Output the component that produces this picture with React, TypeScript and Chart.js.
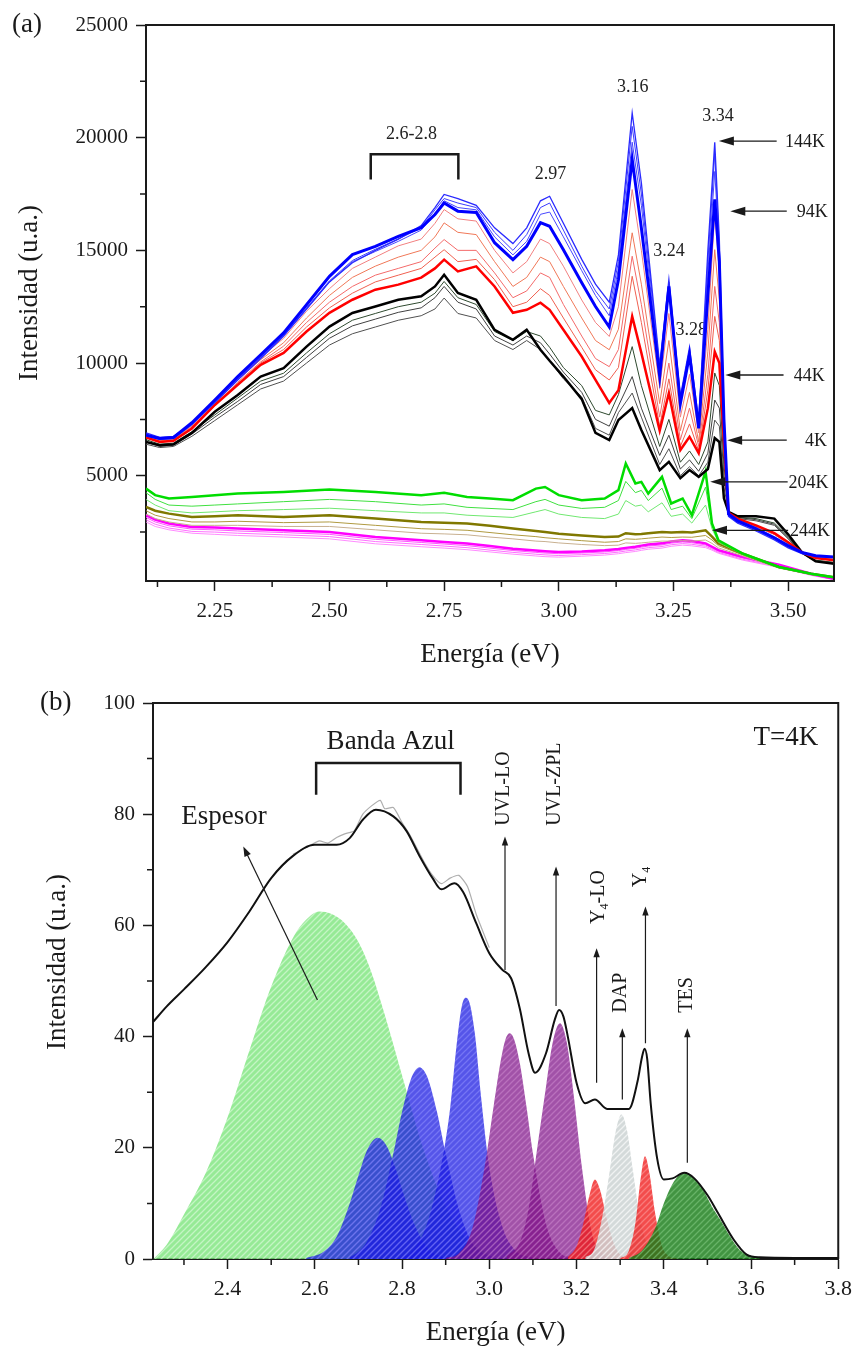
import React, { useEffect, useRef } from 'react';
import { Chart, registerables } from 'chart.js';

Chart.register(...registerables);

const SERIF = '"Liberation Serif", "Times New Roman", Times, serif';
Chart.defaults.font.family = SERIF;
Chart.defaults.color = '#1a1a1a';

// ================= Panel (a) data =================
const A_X = [2.10, 2.13, 2.16, 2.20, 2.25, 2.30, 2.35, 2.40, 2.45, 2.50,
  2.55, 2.60, 2.65, 2.70, 2.73, 2.75, 2.78, 2.82, 2.86, 2.90,
  2.93, 2.96, 2.98, 3.01, 3.05, 3.08, 3.11, 3.13, 3.16, 3.18,
  3.22, 3.24, 3.265, 3.285, 3.305, 3.325, 3.34, 3.35, 3.36, 3.37,
  3.39, 3.43, 3.47, 3.50, 3.53, 3.56, 3.60];

const A_BLUE_144K = [6900, 6700, 6750, 7300, 8250, 9250, 10200, 11200, 12400, 13600,
  14450, 15000, 15500, 16100, 16900, 17480, 17300, 17000, 16000, 15300,
  16000, 17200, 17400, 16200, 14600, 13500, 12700, 14800, 21100, 18000,
  9900, 13700, 8500, 10700, 7400, 15000, 19800, 15500, 7600, 3200,
  2900, 2550, 2150, 1800, 1550, 1420, 1380];
const A_BLUE_B = [6850, 6650, 6700, 7300, 8300, 9300, 10250, 11250, 12450, 13650,
  14550, 15050, 15500, 16000, 16800, 17300, 17100, 16900, 15800, 15000,
  15700, 16900, 17100, 15900, 14300, 13200, 12400, 14500, 20500, 17500,
  9800, 13600, 8400, 10600, 7300, 14500, 19300, 15200, 7500, 3250,
  2950, 2600, 2200, 1850, 1580, 1430, 1390];
const A_BLUE_C = [6800, 6600, 6650, 7250, 8250, 9250, 10200, 11200, 12400, 13600,
  14500, 14950, 15400, 15900, 16600, 17200, 16900, 16800, 15600, 14800,
  15400, 16600, 16700, 15600, 14100, 13000, 12100, 14200, 19800, 17000,
  9600, 13500, 8300, 10500, 7200, 14000, 18500, 15000, 7500, 3250,
  2950, 2600, 2200, 1850, 1580, 1430, 1390];
const A_BLUE_94K = [6800, 6650, 6700, 7350, 8360, 9400, 10360, 11340, 12590, 13850,
  14810, 15180, 15620, 16010, 16590, 17100, 16740, 16680, 15340, 14590,
  15180, 16230, 16070, 15030, 13560, 12510, 11600, 13700, 19040, 16000,
  9400, 13400, 8200, 10360, 7100, 13000, 17260, 14500, 7500, 3300,
  3000, 2650, 2250, 1900, 1600, 1450, 1400];

const A_RED_1 = [6750, 6600, 6650, 7300, 8250, 9300, 10250, 11100, 12300, 13300,
  14200, 14700, 15200, 15500, 16200, 16810, 16400, 16300, 15000, 14000,
  14500, 15500, 15300, 14300, 12800, 11800, 11180, 12500, 17700, 15000,
  8900, 12200, 7600, 9500, 6900, 11500, 16670, 14000, 7300, 3300,
  3050, 2750, 2400, 2000, 1600, 1400, 1300];
const A_RED_2 = [6700, 6550, 6600, 7250, 8200, 9250, 10150, 10900, 12000, 13000,
  13800, 14300, 14700, 15000, 15600, 16220, 15800, 15700, 14500, 13400,
  13800, 14700, 14500, 13400, 12000, 11000, 10590, 11500, 15780, 13500,
  8200, 11000, 7000, 8700, 6500, 10500, 15030, 12800, 7100, 3300,
  3050, 2750, 2400, 2000, 1600, 1380, 1280];
const A_RED_3 = [6700, 6550, 6600, 7200, 8150, 9150, 10050, 10750, 11800, 12700,
  13400, 13900, 14200, 14500, 15100, 15480, 15000, 15000, 14000, 12900,
  13200, 14000, 13800, 12600, 11200, 10200, 9840, 10600, 14740, 12600,
  7600, 10000, 6600, 8000, 6300, 9500, 13400, 11800, 6900, 3300,
  3050, 2750, 2400, 2000, 1600, 1370, 1270];
const A_RED_4 = [6700, 6500, 6550, 7150, 8100, 9100, 10000, 10600, 11600, 12450,
  13100, 13600, 13900, 14200, 14700, 15030, 14500, 14600, 13700, 12500,
  12700, 13300, 13000, 12000, 10700, 9700, 9250, 9800, 13850, 11800,
  7200, 9300, 6300, 7300, 6100, 8800, 12070, 11000, 6700, 3300,
  3050, 2750, 2400, 2000, 1600, 1360, 1260];
const A_RED_44K = [6700, 6500, 6550, 7100, 8140, 9030, 9920, 10450, 11400, 12230,
  12810, 13255, 13480, 13790, 14200, 14590, 14070, 14290, 13400, 12230,
  12365, 12680, 12365, 11475, 10290, 9250, 8230, 8800, 12070, 10450,
  7000, 8670, 6140, 6730, 6000, 8000, 10500, 10000, 6500, 3350,
  3100, 2800, 2450, 2050, 1600, 1350, 1250];

const A_GRAY_1 = [6600, 6400, 6450, 6950, 7700, 8450, 9200, 9550, 10450, 11300,
  11900, 12200, 12500, 12700, 13100, 13620, 12900, 12600, 11400, 11000,
  11400, 11200, 10700, 9800, 9000, 7900, 7700, 8600, 10730, 9000,
  6300, 7500, 5600, 6100, 5500, 6500, 9560, 9000, 5500, 3400,
  3150, 3100, 2900, 2300, 1600, 1250, 1150];
const A_GRAY_2 = [6500, 6300, 6350, 6850, 7600, 8300, 9050, 9400, 10250, 11100,
  11650, 11950, 12250, 12450, 12900, 13400, 12700, 12400, 11200, 10800,
  11200, 10900, 10400, 9600, 8700, 7500, 7200, 8100, 9400, 8000,
  5900, 6800, 5300, 5700, 5200, 6000, 8360, 8000, 5000, 3400,
  3150, 3050, 2850, 2250, 1600, 1250, 1150];
const A_GRAY_3 = [6400, 6250, 6300, 6750, 7450, 8150, 8850, 9200, 10000, 10800,
  11300, 11600, 11900, 12100, 12400, 12885, 12200, 12000, 11000, 10600,
  11000, 10600, 10100, 9300, 8500, 7100, 6800, 7800, 8670, 7600,
  5500, 6200, 5000, 5400, 5000, 5600, 7470, 7200, 4500, 3400,
  3100, 3000, 2800, 2200, 1550, 1200, 1120];
const A_BLACK_4K = [6500, 6350, 6400, 6900, 7840, 8585, 9400, 9770, 10730, 11620,
  12220, 12510, 12810, 12960, 13400, 13920, 13110, 12810, 11475, 11030,
  11475, 10590, 10100, 9400, 8400, 6900, 6580, 7470, 8000, 7030,
  5250, 5620, 4890, 5250, 4950, 5300, 6670, 6500, 4000, 3400,
  3200, 3200, 3100, 2400, 1600, 1200, 1100];

const A_XL = [2.10, 2.12, 2.15, 2.20, 2.25, 2.30, 2.40, 2.50, 2.60, 2.70,
  2.75, 2.80, 2.85, 2.90, 2.95, 2.97, 3.00, 3.05, 3.10, 3.13,
  3.146, 3.167, 3.18, 3.195, 3.225, 3.245, 3.27, 3.29, 3.32, 3.334,
  3.348, 3.40, 3.48, 3.55, 3.60];
const A_GREEN_204K = [4430, 4140, 3990, 4060, 4140, 4210, 4280, 4390, 4280, 4140,
  4240, 4060, 3990, 3915, 4430, 4500, 4140, 3915, 3990, 4360,
  5545, 4660, 4730, 4210, 4950, 3770, 3990, 3250, 5180, 2880,
  2135, 1556, 950, 650, 500];
const A_GREEN_2 = [4250, 3950, 3700, 3650, 3700, 3750, 3850, 3950, 3850, 3700,
  3750, 3600, 3550, 3500, 3850, 3950, 3700, 3550, 3600, 3900,
  4750, 4250, 4350, 3900, 4450, 3500, 3650, 3100, 4500, 2800,
  2100, 1540, 940, 640, 490];
const A_GREEN_3 = [3950, 3700, 3450, 3350, 3400, 3450, 3500, 3560, 3450, 3350,
  3350, 3250, 3200, 3150, 3400, 3500, 3300, 3150, 3100, 3300,
  3900, 3650, 3700, 3400, 3800, 3200, 3300, 2900, 3700, 2650,
  2050, 1520, 930, 630, 480];
const A_OLIVE_244K = [3620, 3450, 3320, 3170, 3200, 3250, 3170, 3250, 3100, 2950,
  2920, 2880, 2780, 2660, 2550, 2500, 2430, 2350, 2280, 2300,
  2450, 2400, 2420, 2450, 2500, 2480, 2500, 2480, 2580, 2300,
  2000, 1550, 950, 650, 500];
const A_OLIVE_2 = [3450, 3250, 3100, 2950, 2950, 2980, 2920, 2950, 2800, 2650,
  2620, 2580, 2480, 2380, 2300, 2250, 2200, 2120, 2050, 2080,
  2200, 2180, 2200, 2230, 2280, 2260, 2280, 2270, 2350, 2150,
  1900, 1500, 920, 630, 480];
const A_OLIVE_3 = [3300, 3100, 2950, 2800, 2800, 2800, 2750, 2750, 2600, 2450,
  2420, 2380, 2280, 2200, 2100, 2080, 2020, 1950, 1900, 1920,
  2020, 2000, 2020, 2050, 2100, 2100, 2120, 2100, 2150, 2000,
  1800, 1450, 900, 620, 470];
const A_MAG_1 = [3250, 3050, 2880, 2730, 2700, 2655, 2580, 2505, 2280, 2135,
  2060, 1990, 1880, 1765, 1680, 1650, 1615, 1640, 1690, 1750,
  1800, 1850, 1900, 1950, 2000, 2080, 2135, 2100, 2000, 1850,
  1700, 1400, 1050, 650, 430];
const A_MAG_2 = [3150, 2950, 2780, 2630, 2600, 2550, 2480, 2400, 2180, 2040,
  1970, 1900, 1790, 1680, 1600, 1570, 1540, 1570, 1620, 1680,
  1730, 1780, 1830, 1880, 1930, 2010, 2060, 2030, 1930, 1800,
  1650, 1350, 1000, 620, 410];
const A_MAG_3 = [3050, 2850, 2680, 2530, 2500, 2450, 2380, 2300, 2080, 1950,
  1880, 1810, 1700, 1600, 1520, 1490, 1460, 1500, 1550, 1610,
  1660, 1710, 1760, 1810, 1860, 1940, 1990, 1960, 1870, 1750,
  1600, 1300, 960, 600, 400];
const A_MAG_4 = [2950, 2750, 2600, 2450, 2400, 2350, 2280, 2200, 1980, 1850,
  1790, 1720, 1620, 1520, 1440, 1410, 1390, 1430, 1480, 1540,
  1590, 1640, 1690, 1740, 1790, 1870, 1920, 1890, 1810, 1700,
  1560, 1260, 930, 580, 390];

const A_X_TICKS = [2.25, 2.5, 2.75, 3.0, 3.25, 3.5];
const A_X_MINOR = [2.125, 2.375, 2.625, 2.875, 3.125, 3.375];
const A_Y_TICKS = [5000, 10000, 15000, 20000, 25000];
const A_Y_MINOR = [2500, 7500, 12500, 17500, 22500];

const A_PEAK_LABELS = ['2.97', '3.16', '3.24', '3.28', '3.34'];
const A_PEAK_X = [2.982, 3.161, 3.240, 3.289, 3.347];
const A_PEAK_Y = [18370, 22240, 14960, 11475, 20960];
const A_BAND_LABEL = '2.6-2.8';
const A_BAND_X = [2.590, 2.781];
const A_BAND_Y = [19260, 18150];
const A_BAND_LABEL_POS = [2.679, 20150];

const A_TEMP_LABELS = ['144K', '94K', '44K', '4K', '204K', '244K'];
const A_TEMP_HEAD_X = [3.349, 3.374, 3.363, 3.367, 3.330, 3.334];
const A_TEMP_TAIL_X = [3.475, 3.497, 3.490, 3.497, 3.499, 3.500];
const A_TEMP_TEXT_X = [3.493, 3.519, 3.512, 3.537, 3.501, 3.504];
const A_TEMP_Y = [19850, 16740, 9470, 6580, 4730, 2580];

// ================= Panel (b) data =================
const B_ESP_X = [2.23, 2.26, 2.30, 2.35, 2.40, 2.45, 2.50, 2.55, 2.58, 2.61, 2.64, 2.67, 2.70, 2.73, 2.76, 2.80, 2.85, 2.90, 2.95, 3.00];
const B_ESP_Y = [0, 2.5, 8, 15.5, 25.5, 37.5, 49, 57.8, 61, 62.5, 62, 60.3, 57, 51.5, 44, 33, 19.5, 9.5, 3.5, 0.8];
const B_BLUE1_X = [2.58, 2.62, 2.65, 2.68, 2.70, 2.72, 2.744, 2.765, 2.785, 2.80, 2.83, 2.86, 2.89, 2.92];
const B_BLUE1_Y = [0.2, 1.3, 4, 10, 15, 19.6, 21.8, 20.3, 16.3, 12.5, 5.9, 1.8, 0.5, 0.1];
const B_BLUE2_X = [2.68, 2.70, 2.72, 2.75, 2.78, 2.80, 2.82, 2.83, 2.84, 2.85, 2.86, 2.88, 2.90, 2.93, 2.96, 2.98, 3.01];
const B_BLUE2_Y = [0.3, 1.3, 3.2, 9, 19, 26.5, 32.3, 33.9, 34.5, 33.9, 32.3, 26.5, 19, 9, 3, 1.3, 0.3];
const B_BLUE3_X = [2.78, 2.80, 2.83, 2.86, 2.89, 2.91, 2.925, 2.937, 2.946, 2.955, 2.967, 2.98, 3.00, 3.03, 3.06, 3.10];
const B_BLUE3_Y = [0.1, 0.3, 2, 7, 17, 27, 38.5, 45.5, 47, 46, 40.5, 30, 16.5, 5.8, 1.5, 0.2];
const B_UVLLO_X = [2.90, 2.93, 2.96, 2.99, 3.01, 3.027, 3.037, 3.047, 3.057, 3.07, 3.085, 3.10, 3.13, 3.16, 3.19];
const B_UVLLO_Y = [0.2, 1.0, 5.2, 16.9, 27.5, 36, 39.5, 40.6, 39.5, 35.2, 27.5, 19, 6.3, 1.3, 0.2];
const B_UVLZPL_X = [3.04, 3.07, 3.09, 3.11, 3.13, 3.145, 3.162, 3.178, 3.195, 3.212, 3.235, 3.26, 3.29];
const B_UVLZPL_Y = [0.5, 3, 9, 20, 31, 38.8, 42.4, 38.8, 28.5, 16.7, 4.7, 1, 0.1];
const B_Y4LO_X = [3.18, 3.20, 3.215, 3.23, 3.242, 3.254, 3.27, 3.285, 3.30, 3.32];
const B_Y4LO_Y = [0.3, 2.3, 6.2, 11.6, 14.3, 12.4, 7, 2.9, 0.8, 0.1];
const B_DAP_X = [3.22, 3.24, 3.26, 3.275, 3.29, 3.303, 3.316, 3.33, 3.345, 3.36, 3.38, 3.40];
const B_DAP_Y = [0.3, 1.6, 8, 15.3, 23, 26, 23, 15.5, 7.6, 3, 0.5, 0.1];
const B_Y4_X = [3.30, 3.32, 3.335, 3.347, 3.357, 3.367, 3.38, 3.395, 3.41, 3.43];
const B_Y4_Y = [0.1, 1.5, 6.5, 14.5, 18.5, 15.5, 8.3, 2.5, 0.6, 0.1];
const B_TES_X = [3.32, 3.35, 3.38, 3.40, 3.42, 3.447, 3.47, 3.49, 3.51, 3.53, 3.55, 3.57, 3.59, 3.62];
const B_TES_Y = [0.2, 1.5, 5.5, 10, 13.5, 15.5, 14.5, 12.5, 9.5, 7, 4.3, 2, 0.8, 0.2];

const B_EXP_X = [2.55, 2.58, 2.61, 2.63, 2.65, 2.67, 2.69, 2.71, 2.73, 2.75, 2.76, 2.78, 2.80, 2.82, 2.85, 2.87, 2.89, 2.91, 2.93, 2.95, 2.97, 3.00];
const B_EXP_Y = [72.8, 74, 75.2, 74.8, 75.8, 76.5, 77, 80, 81.5, 82.5, 81, 81.2, 78.5, 76, 71.5, 69, 67.5, 68.5, 69, 67, 62, 56];

const B_FIT_X = [2.23, 2.26, 2.30, 2.35, 2.40, 2.45, 2.50, 2.55, 2.60, 2.65,
  2.68, 2.71, 2.74, 2.78, 2.81, 2.84, 2.87, 2.89, 2.92, 2.94,
  2.97, 3.00, 3.03, 3.05, 3.07, 3.09, 3.105, 3.13, 3.15, 3.16,
  3.17, 3.18, 3.20, 3.22, 3.242, 3.27, 3.30, 3.32, 3.34, 3.35,
  3.356, 3.362, 3.37, 3.385, 3.40, 3.42, 3.447, 3.47, 3.50, 3.524,
  3.56, 3.59, 3.62, 3.70, 3.80];
const B_FIT_Y = [42.7, 45.4, 48.5, 52.5, 57, 62.5, 68.5, 72.5, 74.5, 74.5,
  75.7, 79, 80.8, 79.6, 77, 72.5, 68.5, 66.5, 67.6, 66,
  60.4, 55, 52, 50.5, 45, 37, 33.5, 37, 43, 44.8,
  43.6, 40, 31.7, 28, 28.7, 27, 27, 27, 32, 36.3,
  37.8, 36, 28, 18, 14.3, 14.5, 15.5, 14.5, 11.5, 8.3,
  3.5, 0.8, 0.3, 0.2, 0.2];

const B_X_TICKS = [2.4, 2.6, 2.8, 3.0, 3.2, 3.4, 3.6, 3.8];
const B_X_MINOR = [2.3, 2.5, 2.7, 2.9, 3.1, 3.3, 3.5, 3.7];
const B_Y_TICKS = [0, 20, 40, 60, 80, 100];
const B_Y_MINOR = [10, 30, 50, 70, 90];

const B_VLABELS = ['UVL-LO', 'UVL-ZPL', 'Y4-LO', 'DAP', 'Y4', 'TES'];
const B_VLABEL_X = [3.033, 3.151, 3.250, 3.301, 3.348, 3.453];
const B_VLABEL_Y = [84.6, 85.4, 65.1, 47.9, 68.7, 47.5];
const B_VARROW_X = [3.036, 3.153, 3.246, 3.305, 3.358, 3.454];
const B_VARROW_TAIL = [52, 45.5, 31.7, 28.7, 38.8, 17.3];
const B_VARROW_HEAD = [76, 70.6, 55.9, 41.5, 63.4, 41.5];
const B_ESP_ARROW = [2.606, 46.6, 2.436, 74.2];
const B_BRACKET_X = [2.603, 2.934];
const B_BRACKET_Y = [89.2, 83.5];
const B_TEXTS = ['Banda Azul', 'Espesor', 'T=4K'];
const B_TEXT_X = [2.774, 2.392, 3.680];
const B_TEXT_Y = [93.0, 79.6, 93.7];

// ================= helpers =================
function pts(xs: number[], ys: number[]) {
  return xs.map((x, i) => ({ x, y: ys[i] }));
}

function arrowTo(ctx: CanvasRenderingContext2D, x1: number, y1: number, x2: number, y2: number, head: number, hw: number, lw: number) {
  const a = Math.atan2(y2 - y1, x2 - x1);
  ctx.lineWidth = lw;
  ctx.beginPath();
  ctx.moveTo(x1, y1);
  ctx.lineTo(x2 - Math.cos(a) * head * 0.7, y2 - Math.sin(a) * head * 0.7);
  ctx.stroke();
  ctx.beginPath();
  ctx.moveTo(x2, y2);
  ctx.lineTo(x2 - head * Math.cos(a) + hw * Math.sin(a), y2 - head * Math.sin(a) - hw * Math.cos(a));
  ctx.lineTo(x2 - head * Math.cos(a) - hw * Math.sin(a), y2 - head * Math.sin(a) + hw * Math.cos(a));
  ctx.closePath();
  ctx.fill();
}

function hatch(base: string, stripe: string): any {
  const c = document.createElement('canvas');
  c.width = 6; c.height = 6;
  const g = c.getContext('2d');
  if (!g) return base;
  g.fillStyle = base;
  g.fillRect(0, 0, 6, 6);
  g.strokeStyle = stripe;
  g.lineWidth = 1.3;
  g.beginPath();
  g.moveTo(0, 6); g.lineTo(6, 0);
  g.moveTo(-3, 3); g.lineTo(3, -3);
  g.moveTo(3, 9); g.lineTo(9, 3);
  g.stroke();
  return g.createPattern(c, 'repeat') || base;
}

function drawFrame(chart: any, xMinor: number[], yMinor: number[]) {
  const { ctx, chartArea: ca, scales: { x, y } } = chart;
  ctx.save();
  ctx.strokeStyle = '#1a1a1a';
  ctx.lineWidth = 2;
  ctx.beginPath();
  ctx.moveTo(ca.left, ca.top);
  ctx.lineTo(ca.right, ca.top);
  ctx.lineTo(ca.right, ca.bottom);
  ctx.stroke();
  ctx.lineWidth = 1.5;
  ctx.beginPath();
  xMinor.forEach((v) => {
    const px = x.getPixelForValue(v);
    ctx.moveTo(px, ca.bottom); ctx.lineTo(px, ca.bottom + 6);
  });
  yMinor.forEach((v) => {
    const py = y.getPixelForValue(v);
    ctx.moveTo(ca.left - 6, py); ctx.lineTo(ca.left, py);
  });
  ctx.stroke();
  ctx.restore();
}

function drawTitles(chart: any, label: string, yTitleX: number, yTitleY: number, xTitleY: number, labelY: number, labelX: number) {
  const { ctx, chartArea: ca } = chart;
  ctx.save();
  ctx.fillStyle = '#1a1a1a';
  ctx.font = `27px ${SERIF}`;
  ctx.textAlign = 'center';
  ctx.textBaseline = 'middle';
  ctx.fillText('Energía (eV)', (ca.left + ca.right) / 2, xTitleY);
  ctx.save();
  ctx.translate(yTitleX, yTitleY);
  ctx.rotate(-Math.PI / 2);
  ctx.fillText('Intensidad (u.a.)', 0, 0);
  ctx.restore();
  ctx.textAlign = 'left';
  ctx.fillText(label, labelX, labelY);
  ctx.restore();
}

function axisCommon(size: number) {
  return {
    grid: { display: true, drawOnChartArea: false, drawTicks: true, tickLength: 10, tickColor: '#1a1a1a', tickWidth: 1.5 },
    border: { display: true, color: '#1a1a1a', width: 2 },
    ticks: { font: { size, family: SERIF }, color: '#1a1a1a', padding: 8, autoSkip: false, maxRotation: 0 },
  };
}

// ================= Panel (a) =================
function makeChartA(canvas: HTMLCanvasElement) {
  const mainX = A_X;
  const low = A_XL;
  const specs: any[] = [
    [low, A_MAG_4, '#ff8cff', 1], [low, A_MAG_3, '#ff70ff', 1], [low, A_MAG_2, '#ff55ff', 1], [low, A_MAG_1, '#ff00ff', 2.5],
    [low, A_OLIVE_3, '#c8b090', 1], [low, A_OLIVE_2, '#b09a40', 1], [low, A_OLIVE_244K, '#807800', 2.5],
    [low, A_GREEN_3, '#70e870', 1], [low, A_GREEN_2, '#40e040', 1], [low, A_GREEN_204K, '#00dd00', 2.5],
    [mainX, A_GRAY_3, '#505050', 1], [mainX, A_GRAY_2, '#404040', 1], [mainX, A_GRAY_1, '#2f4a2f', 1], [mainX, A_BLACK_4K, '#000000', 2.5],
    [mainX, A_RED_4, '#f06050', 1], [mainX, A_RED_3, '#f46a6a', 1], [mainX, A_RED_2, '#f07858', 1], [mainX, A_RED_1, '#f28080', 1], [mainX, A_RED_44K, '#ff0000', 2.5],
    [mainX, A_BLUE_C, '#4848ff', 1], [mainX, A_BLUE_B, '#3c3cff', 1], [mainX, A_BLUE_144K, '#2a2aff', 1.3], [mainX, A_BLUE_94K, '#0000ff', 3],
  ];
  const N = specs.length;
  const datasets = specs.map((s, i) => ({
    data: pts(s[0], s[1]),
    borderColor: s[2],
    borderWidth: s[3],
    pointRadius: 0,
    fill: false,
    tension: 0,
    order: N - i,
  }));

  const decor = {
    id: 'decorA',
    beforeDatasetsDraw(chart: any) {
      const { ctx, scales: { x, y } } = chart;
      ctx.save();
      ctx.fillStyle = '#222';
      ctx.font = `18px ${SERIF}`;
      ctx.textAlign = 'center';
      ctx.textBaseline = 'middle';
      A_PEAK_LABELS.forEach((t, i) => ctx.fillText(t, x.getPixelForValue(A_PEAK_X[i]), y.getPixelForValue(A_PEAK_Y[i])));
      ctx.fillText(A_BAND_LABEL, x.getPixelForValue(A_BAND_LABEL_POS[0]), y.getPixelForValue(A_BAND_LABEL_POS[1]));
      ctx.restore();
    },
    afterDraw(chart: any) {
      const { ctx, scales: { x, y } } = chart;
      drawFrame(chart, A_X_MINOR, A_Y_MINOR);
      ctx.save();
      ctx.strokeStyle = '#1a1a1a';
      ctx.fillStyle = '#1a1a1a';
      ctx.lineWidth = 2.5;
      const bx1 = x.getPixelForValue(A_BAND_X[0]);
      const bx2 = x.getPixelForValue(A_BAND_X[1]);
      const by1 = y.getPixelForValue(A_BAND_Y[0]);
      const by2 = y.getPixelForValue(A_BAND_Y[1]);
      ctx.beginPath();
      ctx.moveTo(bx1, by2); ctx.lineTo(bx1, by1); ctx.lineTo(bx2, by1); ctx.lineTo(bx2, by2);
      ctx.stroke();
      ctx.font = `18px ${SERIF}`;
      ctx.textAlign = 'left';
      ctx.textBaseline = 'middle';
      A_TEMP_LABELS.forEach((t, i) => {
        const py = y.getPixelForValue(A_TEMP_Y[i]);
        arrowTo(ctx, x.getPixelForValue(A_TEMP_TAIL_X[i]), py, x.getPixelForValue(A_TEMP_HEAD_X[i]), py, 15, 4.5, 1.3);
        ctx.fillText(t, x.getPixelForValue(A_TEMP_TEXT_X[i]), py + 1);
      });
      ctx.restore();
      drawTitles(chart, '(a)', 30, 293, 655, 25, 12);
    },
  };

  return new Chart(canvas, {
    type: 'line',
    data: { datasets },
    options: {
      animation: false,
      responsive: false,
      events: [],
      layout: { padding: { left: 0, right: 25, top: 25, bottom: 0 } },
      plugins: { legend: { display: false }, tooltip: { enabled: false } },
      scales: {
        x: {
          type: 'linear', min: 2.1, max: 3.6,
          ...axisCommon(21),
          ticks: { ...axisCommon(21).ticks, callback: (v: any) => Number(v).toFixed(2) },
          afterBuildTicks: (s: any) => { s.ticks = A_X_TICKS.map((v) => ({ value: v })); },
          afterFit: (s: any) => { s.height = 89; },
        },
        y: {
          type: 'linear', min: 330, max: 25000,
          ...axisCommon(21),
          ticks: { ...axisCommon(21).ticks, callback: (v: any) => String(v) },
          afterBuildTicks: (s: any) => { s.ticks = A_Y_TICKS.map((v) => ({ value: v })); },
          afterFit: (s: any) => { s.width = 146; },
        },
      },
    } as any,
    plugins: [decor],
  });
}

// ================= Panel (b) =================
function makeChartB(canvas: HTMLCanvasElement) {
  const fills: any[] = [
    [B_ESP_X, B_ESP_Y, hatch('rgba(120,228,120,0.78)', 'rgba(235,255,235,0.55)')],
    [B_BLUE1_X, B_BLUE1_Y, hatch('rgba(25,25,225,0.74)', 'rgba(150,150,255,0.5)')],
    [B_BLUE2_X, B_BLUE2_Y, hatch('rgba(25,25,225,0.74)', 'rgba(150,150,255,0.5)')],
    [B_BLUE3_X, B_BLUE3_Y, hatch('rgba(25,25,225,0.74)', 'rgba(150,150,255,0.5)')],
    [B_UVLLO_X, B_UVLLO_Y, hatch('rgba(125,15,135,0.72)', 'rgba(215,150,215,0.45)')],
    [B_UVLZPL_X, B_UVLZPL_Y, hatch('rgba(125,15,135,0.72)', 'rgba(215,150,215,0.45)')],
    [B_Y4LO_X, B_Y4LO_Y, hatch('rgba(240,25,25,0.78)', 'rgba(255,170,170,0.5)')],
    [B_DAP_X, B_DAP_Y, hatch('rgba(205,212,212,0.85)', 'rgba(255,255,255,0.65)')],
    [B_Y4_X, B_Y4_Y, hatch('rgba(240,25,25,0.78)', 'rgba(255,170,170,0.5)')],
    [B_TES_X, B_TES_Y, hatch('rgba(25,125,25,0.82)', 'rgba(140,210,140,0.5)')],
  ];
  const ds: any[] = fills.map((f) => ({
    data: pts(f[0], f[1]),
    backgroundColor: f[2],
    borderColor: 'rgba(0,0,0,0)',
    borderWidth: 0,
    fill: 'origin',
    pointRadius: 0,
    cubicInterpolationMode: 'monotone',
  }));
  ds.push({
    data: pts(B_EXP_X, B_EXP_Y),
    borderColor: 'rgba(165,165,165,0.9)',
    borderWidth: 1.2,
    fill: false,
    pointRadius: 0,
    tension: 0.2,
  });
  ds.push({
    data: pts(B_FIT_X, B_FIT_Y),
    borderColor: '#111111',
    borderWidth: 2,
    fill: false,
    pointRadius: 0,
    cubicInterpolationMode: 'monotone',
  });
  const N = ds.length;
  ds.forEach((d, i) => { d.order = N - i; });

  const decor = {
    id: 'decorB',
    afterDraw(chart: any) {
      const { ctx, scales: { x, y } } = chart;
      drawFrame(chart, B_X_MINOR, B_Y_MINOR);
      ctx.save();
      ctx.strokeStyle = '#1a1a1a';
      ctx.fillStyle = '#1a1a1a';
      ctx.lineWidth = 2.5;
      const bx1 = x.getPixelForValue(B_BRACKET_X[0]);
      const bx2 = x.getPixelForValue(B_BRACKET_X[1]);
      const by1 = y.getPixelForValue(B_BRACKET_Y[0]);
      const by2 = y.getPixelForValue(B_BRACKET_Y[1]);
      ctx.beginPath();
      ctx.moveTo(bx1, by2); ctx.lineTo(bx1, by1); ctx.lineTo(bx2, by1); ctx.lineTo(bx2, by2);
      ctx.stroke();
      arrowTo(ctx, x.getPixelForValue(B_ESP_ARROW[0]), y.getPixelForValue(B_ESP_ARROW[1]),
        x.getPixelForValue(B_ESP_ARROW[2]), y.getPixelForValue(B_ESP_ARROW[3]), 10, 3.5, 1.2);
      B_VARROW_X.forEach((v, i) => {
        const px = x.getPixelForValue(v);
        arrowTo(ctx, px, y.getPixelForValue(B_VARROW_TAIL[i]), px, y.getPixelForValue(B_VARROW_HEAD[i]), 9, 3.2, 1.2);
      });
      ctx.font = `27px ${SERIF}`;
      ctx.textAlign = 'center';
      ctx.textBaseline = 'middle';
      B_TEXTS.forEach((t, i) => ctx.fillText(t, x.getPixelForValue(B_TEXT_X[i]), y.getPixelForValue(B_TEXT_Y[i])));
      const fs = 20;
      B_VLABELS.forEach((t, i) => {
        const parts: { s: string; sub: boolean }[] = [];
        if (t.startsWith('Y4')) {
          parts.push({ s: 'Y', sub: false }, { s: '4', sub: true });
          if (t.length > 2) parts.push({ s: t.slice(2), sub: false });
        } else {
          parts.push({ s: t, sub: false });
        }
        const widths = parts.map((p) => {
          ctx.font = `${p.sub ? Math.round(fs * 0.6) : fs}px ${SERIF}`;
          return ctx.measureText(p.s).width;
        });
        const total = widths.reduce((a, b) => a + b, 0);
        ctx.save();
        ctx.translate(x.getPixelForValue(B_VLABEL_X[i]), y.getPixelForValue(B_VLABEL_Y[i]));
        ctx.rotate(-Math.PI / 2);
        ctx.textAlign = 'left';
        ctx.textBaseline = 'middle';
        let cx = -total / 2;
        parts.forEach((p, k) => {
          ctx.font = `${p.sub ? Math.round(fs * 0.6) : fs}px ${SERIF}`;
          ctx.fillText(p.s, cx, p.sub ? fs * 0.3 : 0);
          cx += widths[k];
        });
        ctx.restore();
      });
      ctx.restore();
      drawTitles(chart, '(b)', 58, 292, 663, 33, 40);
    },
  };

  return new Chart(canvas, {
    type: 'line',
    data: { datasets: ds },
    options: {
      animation: false,
      responsive: false,
      events: [],
      layout: { padding: { left: 0, right: 18, top: 33, bottom: 0 } },
      plugins: { legend: { display: false }, tooltip: { enabled: false } },
      scales: {
        x: {
          type: 'linear', min: 2.229, max: 3.8,
          ...axisCommon(22),
          ticks: { ...axisCommon(22).ticks, padding: 7, callback: (v: any) => Number(v).toFixed(1) },
          afterBuildTicks: (s: any) => { s.ticks = B_X_TICKS.map((v) => ({ value: v })); },
          afterFit: (s: any) => { s.height = 90; },
        },
        y: {
          type: 'linear', min: 0, max: 100,
          ...axisCommon(21),
          ticks: { ...axisCommon(21).ticks, callback: (v: any) => String(v) },
          afterBuildTicks: (s: any) => { s.ticks = B_Y_TICKS.map((v) => ({ value: v })); },
          afterFit: (s: any) => { s.width = 153; },
        },
      },
    } as any,
    plugins: [decor],
  });
}

export default function App() {
  const refA = useRef<HTMLCanvasElement>(null);
  const refB = useRef<HTMLCanvasElement>(null);
  useEffect(() => {
    const a = makeChartA(refA.current as HTMLCanvasElement);
    const b = makeChartB(refB.current as HTMLCanvasElement);
    return () => { a.destroy(); b.destroy(); };
  }, []);
  return (
    <div style={{ position: 'absolute', left: 0, top: 0, width: 859, height: 1349, background: '#fff', overflow: 'hidden' }}>
      <canvas ref={refA} width={859} height={670} style={{ position: 'absolute', left: 0, top: 0, width: 859, height: 670 }} />
      <canvas ref={refB} width={859} height={679} style={{ position: 'absolute', left: 0, top: 670, width: 859, height: 679 }} />
    </div>
  );
}
